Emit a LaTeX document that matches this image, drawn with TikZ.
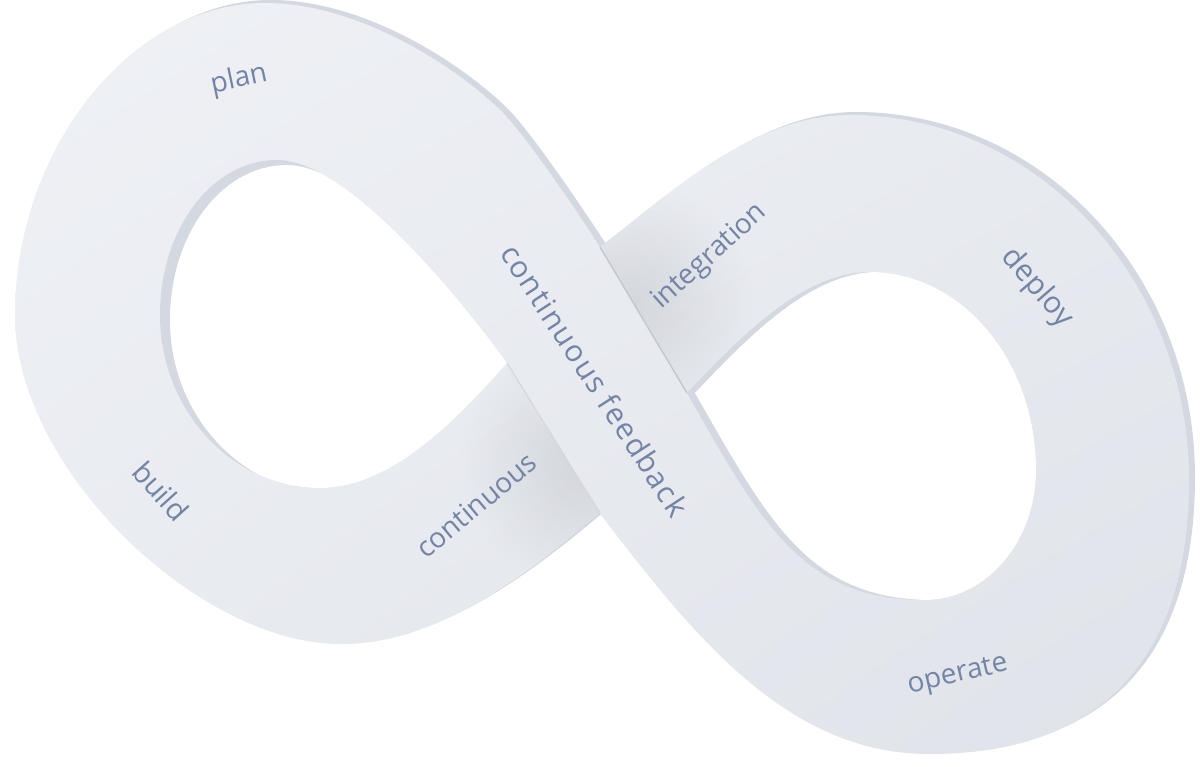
\documentclass[tikz,border=0pt]{standalone}
\usepackage{fontspec}
\setmainfont{Open Sans}
\usetikzlibrary{shadings}
\definecolor{faceA}{HTML}{EFF1F5}
\definecolor{faceM}{HTML}{E8EBF0}
\definecolor{faceB}{HTML}{DFE2E8}
\definecolor{wallc}{HTML}{D4D8E0}
\definecolor{shadowc}{HTML}{B8C0CE}
\definecolor{textc}{HTML}{7384A6}
\begin{document}
\begin{tikzpicture}[x=1pt,y=-1pt,
  lbl/.style={text=textc, inner sep=0pt, font=\fontsize{28}{28}\selectfont},
  facefill/.style={upper left=faceA, upper right=faceM, lower left=faceM, lower right=faceB}]
\def\outerpath{(600,247) .. controls (665,198) and (750,115) .. (850,115)
  .. controls (1037,115) and (1189,279) .. (1189,480)
  .. controls (1189,660) and (1100,754) .. (930,754)
  .. controls (790,754) and (696,640) .. (600,513)
  .. controls (515,585) and (430,645) .. (340,644)
  .. controls (200,644) and (15,470) .. (15,315)
  .. controls (15,150) and (130,3) .. (265,3)
  .. controls (355,3) and (450,62) .. (500,110)
  .. controls (525,134) and (581,218) .. (600,247) -- cycle}
\def\lefthole{(507,363) .. controls (454,423) and (390,488) .. (320,488)
  .. controls (232,488) and (160,410) .. (160,315)
  .. controls (160,229) and (212,160) .. (277,160)
  .. controls (350,160) and (466,306) .. (507,363) -- cycle}
\def\righthole{(687,393) .. controls (735,343) and (800,272) .. (870,272)
  .. controls (962,272) and (1036,361) .. (1036,470)
  .. controls (1036,542) and (986,600) .. (925,600)
  .. controls (800,600) and (760,520) .. (687,393) -- cycle}
\def\overstrip{(319,60) -- (753,760) -- (906,760) -- (489,60) -- cycle}

\useasboundingbox (0,0) rectangle (1200,767);
\fill[white] (0,0) rectangle (1200,767);

% thickness wall of the ribbon
\fill[wallc, shift={(6,-3)}] \outerpath;

% face of the ribbon
\begin{scope}
  \clip \outerpath;
  \shade[facefill] (0,0) rectangle (1200,767);
  % soft shadows on the lower strand near the crossing
  \foreach \r in {120,114,...,6} {
    \fill[shadowc, opacity=0.02] (582,462) circle[radius=\r pt];
    \fill[shadowc, opacity=0.02] (632,305) circle[radius=\r pt];
  }
  % upper strand across the crossing
  \begin{scope}
    \clip \overstrip;
    \shade[facefill] (0,0) rectangle (1200,767);
  \end{scope}
\end{scope}

% edges of the upper strand at the crossing
\coordinate (le1) at (507,363);
\coordinate (le2) at (600,513);
\coordinate (re1) at (600,247);
\coordinate (re2) at (687,393);
\draw[wallc, line width=1.2pt] (le1) -- (le2);
\draw[wallc!92!black, line width=1.4pt] (re1) -- (re2);

% holes with inner walls
\begin{scope}
  \clip \lefthole;
  \fill[wallc] (0,0) rectangle (1200,767);
  \fill[white, shift={(10,5)}] \lefthole;
\end{scope}
\begin{scope}
  \clip \righthole;
  \fill[wallc] (0,0) rectangle (1200,767);
  \fill[white, shift={(8,0)}] \righthole;
\end{scope}

% labels
\node[lbl, rotate=12] (plan) at (239,80) {plan};
\node[lbl, rotate=-48, font=\fontsize{29}{29}\selectfont] (build) at (161,491) {build};
\node[lbl, rotate=40] (cont) at (476,505) {continuous};
\node[lbl, rotate=-57, font=\fontsize{30}{30}\selectfont\addfontfeatures{LetterSpace=5}] (contfb) at (595,380) {continuous feedback};
\node[lbl, rotate=42] (integ) at (710,257) {integration};
\node[lbl, rotate=-49, font=\fontsize{30}{30}\selectfont] (deploy) at (1037,288) {deploy};
\node[lbl, rotate=13] (operate) at (958,676) {operate};
\end{tikzpicture}
\end{document}
